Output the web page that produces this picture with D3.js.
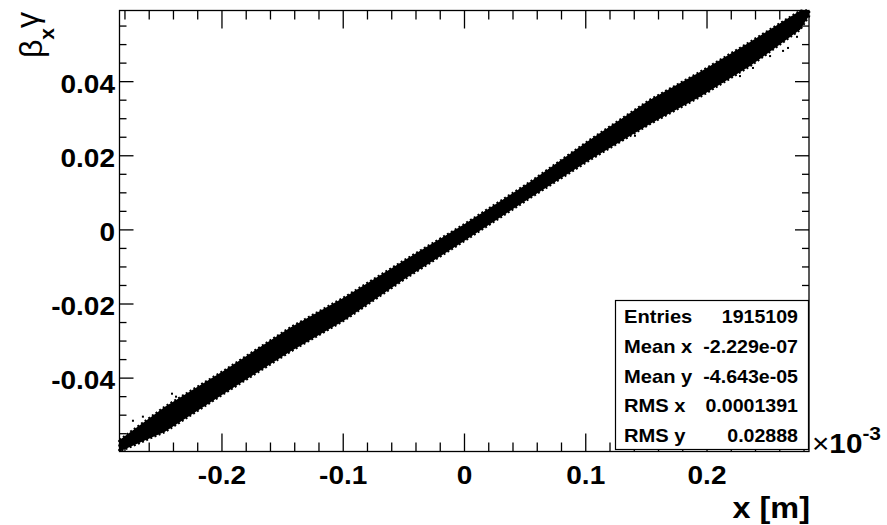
<!DOCTYPE html>
<html>
<head>
<meta charset="utf-8">
<script src="https://cdn.jsdelivr.net/npm/d3@7"></script>
<style>
  body { margin: 0; background: #fff; }
  svg text { font-family: "Liberation Sans", Arial, sans-serif; }
</style>
</head>
<body>
<svg id="chart" width="887" height="525"></svg>
<script>
const width = 887, height = 525
const frame = {left: 119.5, right: 809, top: 10.5, bottom: 451.5}

// axis ranges (x in units of 1e-3 m)
const xDomain = [-0.2845, 0.2841]
const yDomain = [-0.0598, 0.0592]

const xTickValues = [-0.2, -0.1, 0, 0.1, 0.2]
const xTickLabels = ["-0.2", "-0.1", "0", "0.1", "0.2"]
const yTickValues = [-0.04, -0.02, 0, 0.02, 0.04]
const yTickLabels = ["-0.04", "-0.02", "0", "0.02", "0.04"]

// band outline
const bandX     = [-0.2845, -0.2470, -0.1975, -0.1439, -0.0986, -0.0491, -0.0012, 0.0540, 0.1035, 0.1530, 0.1942, 0.2355, 0.2767, 0.2841]
const bandUpper = [-0.0567, -0.0477, -0.0378, -0.0264, -0.0181, -0.0081, 0.0013, 0.0129, 0.0243, 0.0351, 0.0426, 0.0507, 0.0591, 0.0592]
const bandLower = [-0.0598, -0.0545, -0.0440, -0.0329, -0.0243, -0.0132, -0.0032, 0.0086, 0.0189, 0.0286, 0.0359, 0.0442, 0.0540, 0.0577]

// stray entries outside the bulk
const strayX = [-0.2734, -0.2652, -0.2412, -0.2379, -0.2132, -0.2808, 0.2668, 0.2627, 0.2520, 0.2379, 0.2272, 0.2742, 0.2124, 0.1406]
const strayY = [-0.0515, -0.0504, -0.0442, -0.0450, -0.0415, -0.0583, 0.0491, 0.0483, 0.0469, 0.0437, 0.0415, 0.0521, 0.0399, 0.0254]

const statNames  = ["Entries", "Mean x", "Mean y", "RMS x", "RMS y"]
const statValues = ["1915109", "-2.229e-07", "-4.643e-05", "0.0001391", "0.02888"]

const svg = d3.select('#chart')
svg.append('rect').attr('width', width).attr('height', height).attr('fill', '#fff')

const x = d3.scaleLinear().domain(xDomain).range([frame.left, frame.right])
const y = d3.scaleLinear().domain(yDomain).range([frame.bottom, frame.top])

// the reference text is a bit wider than Liberation Sans, stretch it
const widen = function (sel, k) {
    sel.each(function () {
        const len = this.getComputedTextLength()
        d3.select(this).attr('textLength', len * k).attr('lengthAdjust', 'spacingAndGlyphs')
    })
}

// scatter band
const band = bandX.map((v, i) => ({x: v, hi: bandUpper[i], lo: bandLower[i]}))
const area = d3.area()
    .x(d => x(d.x))
    .y0(d => y(d.lo))
    .y1(d => y(d.hi))
svg.append('path')
    .datum(band)
    .attr('d', area)
    .attr('fill', '#000')
    .attr('stroke', '#000')
    .attr('stroke-width', 2.5)
    .attr('stroke-dasharray', '2,2.5')

svg.append('g').selectAll('rect')
    .data(strayX.map((v, i) => ({x: v, y: strayY[i]})))
    .join('rect')
    .attr('x', d => x(d.x) - 1)
    .attr('y', d => y(d.y) - 1)
    .attr('width', 2)
    .attr('height', 2)
    .attr('fill', '#000')

// frame
svg.append('rect')
    .attr('x', frame.left).attr('y', frame.top)
    .attr('width', frame.right - frame.left)
    .attr('height', frame.bottom - frame.top)
    .attr('fill', 'none').attr('stroke', '#000').attr('stroke-width', 1.3)

// ticks: major + minor, on all four sides
const xMinor = d3.range(-0.28, 0.2801, 0.02).filter(v => v >= xDomain[0] && v <= xDomain[1])
const yMinor = d3.range(-0.055, 0.05501, 0.005).filter(v => v >= yDomain[0] && v <= yDomain[1])
const isMajor = (v, step) => Math.abs(v / step - Math.round(v / step)) < 1e-6

const ticks = svg.append('g').attr('stroke', '#000').attr('stroke-width', 1.3)
xMinor.forEach(v => {
    const len = isMajor(v, 0.1) ? 18 : 9
    ticks.append('line').attr('x1', x(v)).attr('x2', x(v)).attr('y1', frame.bottom).attr('y2', frame.bottom - len)
    ticks.append('line').attr('x1', x(v)).attr('x2', x(v)).attr('y1', frame.top).attr('y2', frame.top + len)
})
yMinor.forEach(v => {
    const len = isMajor(v, 0.02) ? 14 : 7
    ticks.append('line').attr('y1', y(v)).attr('y2', y(v)).attr('x1', frame.left).attr('x2', frame.left + len)
    ticks.append('line').attr('y1', y(v)).attr('y2', y(v)).attr('x1', frame.right).attr('x2', frame.right - len)
})

// tick labels
svg.append('g').selectAll('text')
    .data(xTickValues)
    .join('text')
    .attr('x', d => x(d))
    .attr('y', frame.bottom + 32)
    .attr('text-anchor', 'middle')
    .attr('font-size', 25).attr('font-weight', 'bold')
    .text((d, i) => xTickLabels[i])
    .call(widen, 1.12)

svg.append('g').selectAll('text')
    .data(yTickValues)
    .join('text')
    .attr('x', frame.left - 4.5)
    .attr('y', d => y(d) + 11)
    .attr('text-anchor', 'end')
    .attr('font-size', 25).attr('font-weight', 'bold')
    .text((d, i) => yTickLabels[i])
    .call(widen, 1.12)

// x exponent
const expo = svg.append('text')
    .attr('x', 812).attr('y', 453)
    .attr('font-size', 27)
expo.append('tspan').text('\u00d7')
expo.append('tspan').attr('font-weight', 'bold').text('10')
expo.append('tspan').attr('font-weight', 'bold').attr('font-size', 19).attr('dy', -13).text('-3')
expo.call(widen, 1.1)

// axis titles
svg.append('text')
    .attr('x', 810).attr('y', 518)
    .attr('text-anchor', 'end')
    .attr('font-size', 30).attr('font-weight', 'bold')
    .text('x [m]')
    .call(widen, 1.08)

const yTitle = svg.append('text')
    .attr('transform', 'translate(42,12) rotate(-90)')
    .attr('text-anchor', 'end')
    .attr('font-size', 32)
yTitle.append('tspan').text('\u03b2')
yTitle.append('tspan').attr('font-size', 21).attr('font-weight', 'bold').attr('dy', 12).text('x')
yTitle.append('tspan').attr('dy', -16).text('\u03b3')

// stats box
const box = {left: 615, top: 300, right: 809, bottom: 449}
svg.append('rect')
    .attr('x', box.left + 0.5).attr('y', box.top + 0.5)
    .attr('width', box.right - box.left - 1)
    .attr('height', box.bottom - box.top)
    .attr('fill', '#fff').attr('stroke', '#000').attr('stroke-width', 1.2)

const rowY = d3.scaleLinear().domain([0, statNames.length - 1]).range([323, 442])
const rows = svg.append('g').attr('font-size', 19).attr('font-weight', 'bold')
statNames.forEach((name, i) => {
    rows.append('text').attr('x', 624).attr('y', rowY(i)).text(name).call(widen, 1.06)
    rows.append('text').attr('x', 798).attr('y', rowY(i)).attr('text-anchor', 'end').text(statValues[i]).call(widen, 1.03)
})
</script>
</body>
</html>
